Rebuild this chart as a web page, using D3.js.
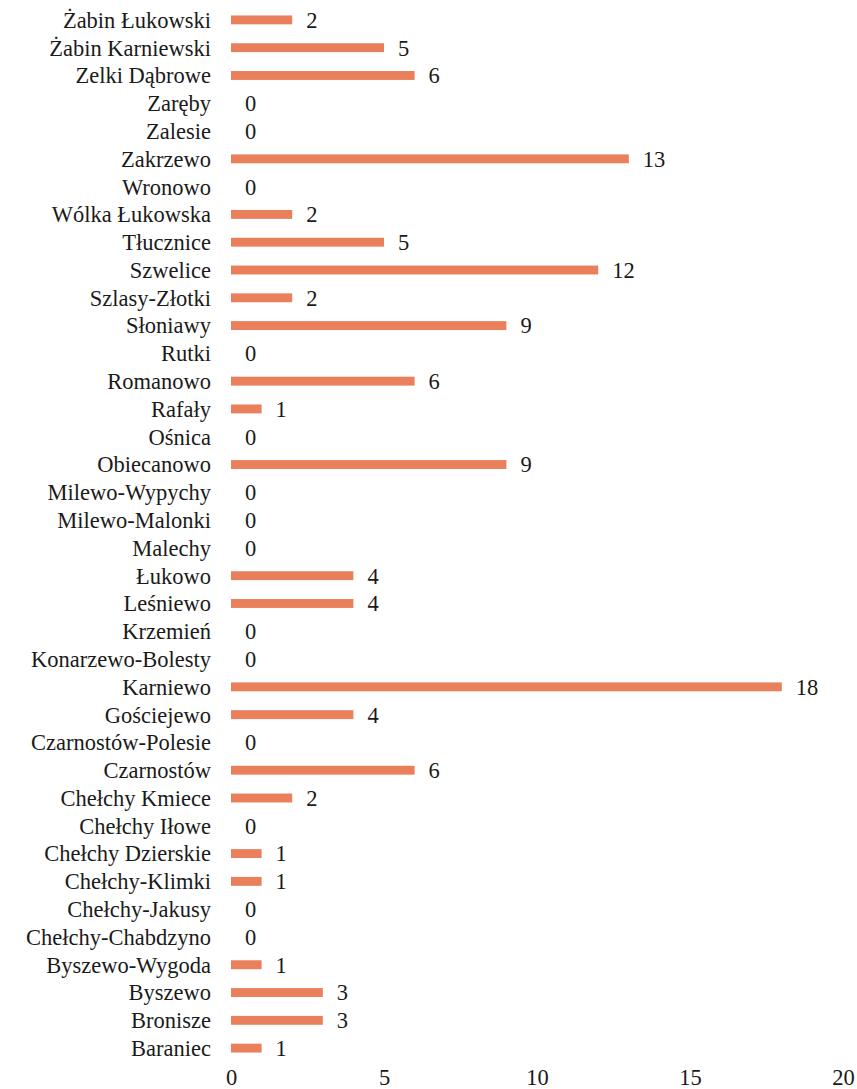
<!DOCTYPE html>
<html>
<head>
<meta charset="utf-8">
<script src="https://cdn.jsdelivr.net/npm/d3@7"></script>
<style>
  body { margin: 0; background: #fff; }
  svg { font-family: 'Liberation Serif'; }
</style>
</head>
<body>
<div class="chart"></div>
<script>
var places = ["Żabin Łukowski", "Żabin Karniewski", "Zelki Dąbrowe", "Zaręby", "Zalesie",
  "Zakrzewo", "Wronowo", "Wólka Łukowska", "Tłucznice", "Szwelice", "Szlasy-Złotki",
  "Słoniawy", "Rutki", "Romanowo", "Rafały", "Ośnica", "Obiecanowo", "Milewo-Wypychy",
  "Milewo-Malonki", "Malechy", "Łukowo", "Leśniewo", "Krzemień", "Konarzewo-Bolesty",
  "Karniewo", "Gościejewo", "Czarnostów-Polesie", "Czarnostów", "Chełchy Kmiece",
  "Chełchy Iłowe", "Chełchy Dzierskie", "Chełchy-Klimki", "Chełchy-Jakusy",
  "Chełchy-Chabdzyno", "Byszewo-Wygoda", "Byszewo", "Bronisze", "Baraniec"];
var counts = [2, 5, 6, 0, 0, 13, 0, 2, 5, 12, 2, 9, 0, 6, 1, 0, 9, 0, 0, 0, 4, 4, 0, 0,
  18, 4, 0, 6, 2, 0, 1, 1, 0, 0, 1, 3, 3, 1];
var xTicks = [0, 5, 10, 15, 20];

var serif = "'Liberation Serif'";
var fontSize = "22.5px";

var svgWidth = 857;
var svgHeight = 1089;
var margin = { top: 6, right: 14, bottom: 27, left: 231 };
var width = svgWidth - margin.left - margin.right;
var height = svgHeight - margin.top - margin.bottom;

var data = places.map(function(p, i) { return { name: p, value: counts[i] }; });

var svg = d3.select(".chart")
  .append("svg")
  .attr("width", svgWidth)
  .attr("height", svgHeight)
  .attr("font-family", serif)
  .attr("font-size", fontSize);

var chartGroup = svg.append("g")
  .attr("transform", `translate(${margin.left}, ${margin.top})`);

var xScale = d3.scaleLinear().domain([0, 20]).range([0, width]);
var yScale = d3.scaleBand().domain(places).range([0, height]).paddingInner(0.68).paddingOuter(0.34);

// category labels
chartGroup.selectAll(".cat")
  .data(data)
  .enter()
  .append("text")
  .attr("class", "cat")
  .attr("x", -20)
  .attr("y", d => yScale(d.name) + yScale.bandwidth() / 2)
  .attr("dy", "0.35em")
  .attr("text-anchor", "end")
  .attr("fill", "#1a1a1a")
  .text(d => d.name);

chartGroup.selectAll("rect")
  .data(data)
  .enter()
  .append("rect")
  .attr("x", xScale(0))
  .attr("y", d => yScale(d.name))
  .attr("width", d => xScale(d.value) - xScale(0))
  .attr("height", yScale.bandwidth())
  .attr("fill", "#ea7f5b");

chartGroup.selectAll(".val")
  .data(data)
  .enter()
  .append("text")
  .attr("class", "val")
  .attr("x", d => xScale(d.value) + 14)
  .attr("y", d => yScale(d.name) + yScale.bandwidth() / 2)
  .attr("dy", "0.35em")
  .attr("fill", "#1a1a1a")
  .text(d => String(d.value));

var bottomAxis = d3.axisBottom(xScale).tickValues(xTicks).tickSize(0).tickPadding(0);
var axisG = chartGroup.append("g")
  .attr("transform", `translate(0, ${height + 7})`)
  .call(bottomAxis);
axisG.attr("font-family", serif).attr("font-size", fontSize);
axisG.select(".domain").remove();
axisG.selectAll("text").attr("fill", "#1a1a1a");
</script>
</body>
</html>
